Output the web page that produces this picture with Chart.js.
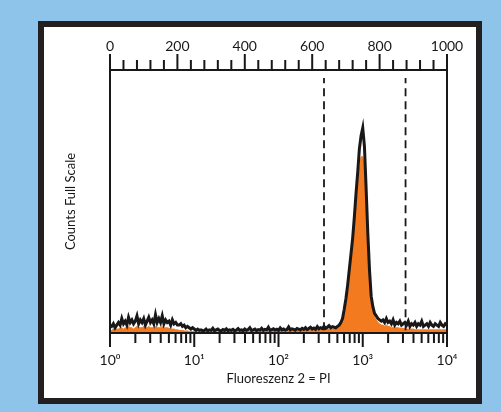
<!DOCTYPE html>
<html>
<head>
<meta charset="utf-8">
<script src="https://cdn.jsdelivr.net/npm/chart.js@4.4.1/dist/chart.umd.min.js"></script>
<style>
html,body{margin:0;padding:0;background:#8FC4EA;}
#wrap{position:absolute;left:0;top:0;width:501px;height:412px;}
</style>
</head>
<body>
<div id="wrap"><canvas id="c" width="501" height="412"></canvas></div>
<script>
// ---- data (channel 0..1000, step 5) ----
const channels = Array.from({length: 201}, (_, i) => i * 5);

const countsBlack = [
  3, 2.5, 3.5, 2, 3,
  4, 3, 5.5, 3.5, 4.5, 3, 6, 4, 5, 3.5, 4.5, 6.5, 3.5, 5, 4, 5.5, 3, 4.5, 6, 4,
  5, 3.5, 7, 4, 5.5, 4, 6.5, 3.5, 5, 4, 4.5, 3, 5, 3.5, 4, 3,
  3, 3.5, 2.5, 3, 2, 2.5, 2, 1.5, 2, 1.5, 1, 1.5, 1, 1.2, 0.8,
  1, 1.5, 0.8, 1.2, 1, 1.8, 0.8, 1.2, 1.5, 1, 0.8, 1.3, 1, 1.6, 0.9, 1.2, 1, 1.4, 0.8, 1.1,
  1.7, 1, 1.2, 0.9, 1.5, 1, 1.3, 2, 1, 1.2, 1.5, 0.9, 1.3, 1.1, 1.8, 1, 1.4, 1.2, 2.2, 1,
  1.3, 1.6, 1.1, 1.4, 1, 1.9, 1.2, 1.5, 1.1, 1.3, 2.3, 1.2, 1.6, 1.4, 1.1, 1.7,
  1.5, 1.2, 1.8, 1.4, 2, 1.3, 1.7, 2.2, 1.5, 1.9, 1.4, 2.4, 1.6, 2, 1.7, 2.5, 1.8, 2.2, 2.8, 2, 2.4, 2.2,
  2, 2.5, 3, 4, 5.5, 9, 13, 18, 24, 30, 36, 44, 53, 61, 70, 75, 78, 71, 55, 38, 24, 14, 10, 7.5, 6.5, 5.5, 5,
  4.5, 5, 4, 5.5, 4, 4.5, 3.5, 5, 3, 4, 3.5, 4.5, 3, 3.5, 4, 3, 4.5, 2.5, 3.5, 3,
  4, 2.5, 3.5, 3, 4.5, 2.5, 3, 3.5, 2.5, 4, 3, 2.5, 3.5, 3, 2.5, 4, 3, 2.5, 3.5, 3
];

const countsFill = [
  1, 1, 1.5, 1.5, 1.5,
  1.5, 2, 2, 1.5, 2, 2, 2.5, 2, 2, 1.5, 2, 2.5, 2, 2, 2, 2.5, 2, 2, 2.5, 2,
  2, 2, 2.5, 2, 2, 2, 2.5, 2, 2, 2, 1.8, 1.5, 1.5, 1.5, 1.2, 1.2,
  1, 1, 1, 0.8, 0.8, 0.8, 0.6, 0.6, 0.5, 0.5, 0.5, 0.5, 0.5, 0.5, 0.5,
  0.5, 0.5, 0.5, 0.5, 0.5, 0.5, 0.5, 0.5, 0.5, 0.5, 0.5, 0.5, 0.5, 0.5, 0.5, 0.5, 0.5, 0.5, 0.5, 0.5,
  0.6, 0.6, 0.6, 0.6, 0.6, 0.6, 0.6, 0.6, 0.6, 0.6, 0.8, 0.8, 0.8, 0.8, 0.8, 0.8, 0.8, 0.8, 0.8, 0.8,
  1, 1, 1, 1, 1, 1, 1, 1, 1, 1, 1, 1, 1, 1, 1, 1,
  1, 1, 1, 1, 1.2, 1.2, 1.2, 1.2, 1.2, 1.2, 1.2, 1.2, 1.2, 1.2, 1.2, 1.5, 1.5, 1.5, 1.5, 1.5, 1.5, 1.5,
  1.5, 2, 2.5, 3, 4.5, 7.5, 11.5, 16.5, 22, 28, 34, 41, 48, 55, 62, 67, 67, 62, 50, 34, 21, 12, 8.5, 6, 5, 4, 3.5,
  3, 3, 2.5, 3, 2.5, 2.5, 2, 2, 2, 2, 2, 1.8, 1.8, 1.8, 1.5, 1.5, 1.5, 1.5, 1.5, 1.5,
  1.2, 1.2, 1.2, 1.2, 1.2, 1.2, 1.2, 1.2, 1.2, 1.2, 1.2, 1.2, 1.2, 1.2, 1.2, 1.2, 1.2, 1.2, 1.2, 1.2
];

const gateChannels = [635, 877];
const gateSpan = [1, 97];

const topMajorTicks = [0, 200, 400, 600, 800, 1000];
const topMinorTicks = [40, 80, 120, 160, 240, 280, 320, 360, 440, 480, 520, 560, 640, 680, 720, 760, 840, 880, 920, 960];
const logMajorTicks = [1, 10, 100, 1000, 10000];
const logMajorLabels = ['10\u2070', '10\u00B9', '10\u00B2', '10\u00B3', '10\u2074'];
const logMinorTicks = [2,3,4,5,6,7,8,9,20,30,40,50,60,70,80,90,200,300,400,500,600,700,800,900,2000,3000,4000,5000,6000,7000,8000,9000];

const xTitle = 'Fluoreszenz 2 = PI';
const yTitle = 'Counts Full Scale';

const INK = '#1a1718';
const FONT = 'Lato, "DejaVu Sans", sans-serif';

const panelPlugin = {
  id: 'panel',
  beforeDraw(chart) {
    const ctx = chart.ctx;
    ctx.save();
    ctx.fillStyle = '#8FC4EA';
    ctx.fillRect(0, 0, 501, 412);
    ctx.fillStyle = '#231F20';
    ctx.fillRect(38, 21, 444, 383);
    ctx.fillStyle = '#ffffff';
    ctx.fillRect(44, 27, 432, 371);
    ctx.restore();
  }
};

const frameTicksPlugin = {
  id: 'frameTicks',
  afterDraw(chart) {
    const ctx = chart.ctx;
    const a = chart.chartArea;
    const top = chart.scales.xTop, bot = chart.scales.x;
    ctx.save();
    ctx.strokeStyle = INK;
    ctx.lineWidth = 2;
    ctx.lineCap = 'butt';
    ctx.beginPath();
    ctx.moveTo(a.left, a.bottom); ctx.lineTo(a.left, a.top);
    ctx.lineTo(a.right, a.top); ctx.lineTo(a.right, a.bottom);
    ctx.moveTo(a.left, a.bottom); ctx.lineTo(a.right, a.bottom);
    for (const v of topMajorTicks) { const x = top.getPixelForValue(v); ctx.moveTo(x, a.top); ctx.lineTo(x, a.top - 16); }
    for (const v of topMinorTicks) { const x = top.getPixelForValue(v); ctx.moveTo(x, a.top); ctx.lineTo(x, a.top - 10); }
    for (const v of logMajorTicks) { const x = bot.getPixelForValue(v); ctx.moveTo(x, a.bottom); ctx.lineTo(x, a.bottom + 14); }
    for (const v of logMinorTicks) { const x = bot.getPixelForValue(v); ctx.moveTo(x, a.bottom); ctx.lineTo(x, a.bottom + 10); }
    ctx.stroke();
    ctx.restore();
  }
};

const blackPts = channels.map((c, i) => ({x: c, y: countsBlack[i]}));
const fillPts = channels.map((c, i) => ({x: c, y: countsFill[i]}));

new Chart(document.getElementById('c'), {
  type: 'line',
  data: {
    datasets: [
      { data: blackPts, xAxisID: 'xTop', yAxisID: 'y', borderColor: INK, borderWidth: 3, pointRadius: 0, fill: false, tension: 0, order: 0 },
      { data: fillPts, xAxisID: 'xTop', yAxisID: 'y', borderColor: '#F47A20', borderWidth: 1, backgroundColor: '#F47A20', pointRadius: 0, fill: 'origin', tension: 0, order: 1 },
      ...gateChannels.map(g => ({
        data: [{x: g, y: gateSpan[0]}, {x: g, y: gateSpan[1]}],
        xAxisID: 'xTop', yAxisID: 'y', borderColor: INK, borderWidth: 1.8, borderDash: [8, 5],
        pointRadius: 0, fill: false, order: 0
      }))
    ]
  },
  options: {
    responsive: false,
    animation: false,
    events: [],
    layout: { padding: { left: 0, right: 54, top: 0, bottom: 0 } },
    plugins: { legend: { display: false }, tooltip: { enabled: false } },
    scales: {
      xTop: {
        type: 'linear', position: 'top', min: 0, max: 1000,
        grid: { display: false, drawTicks: false }, border: { display: false },
        ticks: { stepSize: 200, padding: 15, color: INK, font: { family: FONT, size: 14 }, maxRotation: 0, autoSkip: false,
          callback(v) { return String(v); } },
        afterFit(s) { s.height = 70; }
      },
      x: {
        type: 'logarithmic', position: 'bottom', min: 1, max: 10000,
        grid: { display: false, drawTicks: false }, border: { display: false },
        afterBuildTicks(s) { s.ticks = logMajorTicks.map(v => ({value: v})); },
        ticks: {
          padding: 19, color: INK, font: { family: FONT, size: 14 }, maxRotation: 0, autoSkip: false,
          callback(v) { const i = logMajorTicks.indexOf(v); return i >= 0 ? logMajorLabels[i] : ''; }
        },
        title: { display: true, text: xTitle, color: INK, font: { family: FONT, size: 13 }, padding: { top: 0, bottom: 25 } },
        afterFit(s) { s.height = 79; }
      },
      y: {
        type: 'linear', position: 'left', min: 0, max: 100,
        grid: { display: false, drawTicks: false }, border: { display: false },
        ticks: { display: false },
        title: { display: true, text: yTitle, color: INK, font: { family: FONT, size: 13 }, padding: { top: 63, bottom: 0 } },
        afterFit(s) { s.width = 110; }
      }
    }
  },
  plugins: [panelPlugin, frameTicksPlugin]
});
</script>
</body>
</html>
